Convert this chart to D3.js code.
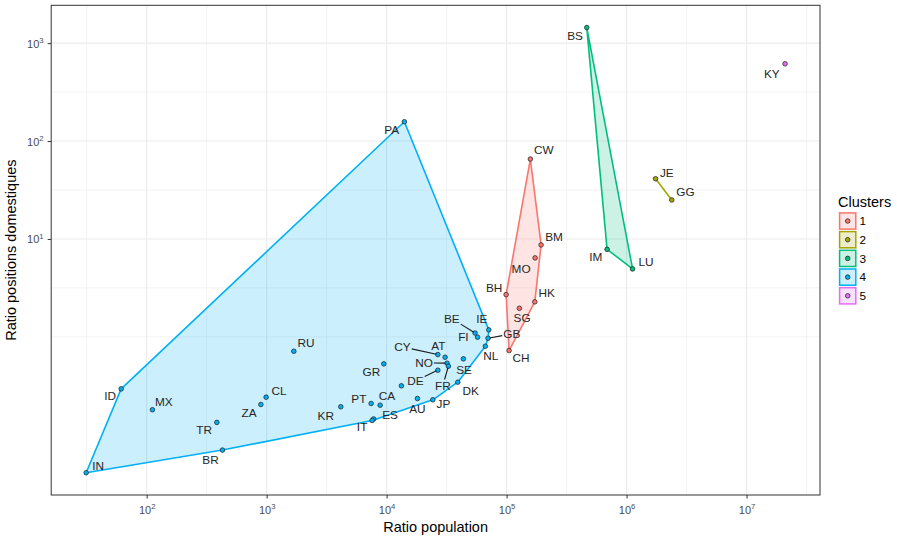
<!DOCTYPE html>
<html>
<head>
<meta charset="utf-8">
<script src="https://cdn.jsdelivr.net/npm/d3@7"></script>
<style>
  html, body { margin: 0; padding: 0; background: #fff; }
  svg { display: block; font-family: "Liberation Sans", Arial, Helvetica, sans-serif; }
</style>
</head>
<body>
<svg id="chart" width="897" height="540"></svg>
<script>
// ---------------- DATA ----------------
const codes = ["IN","ID","MX","TR","BR","ZA","CL","RU","KR","PT","CA","ES","IT","GR","",
  "AU","JP","DE","CY","AT","NO","FR","SE","DK","NL","GB","IE","BE","FI","PA",
  "CW","BM","MO","BH","HK","SG","CH","BS","IM","LU","JE","GG","KY"];
const ratioPopulation = [31.3, 61.3, 111.7, 384.6, 428.3, 895, 990, 1685, 4150, 7430, 8830, 7795, 7570, 9480, 13280,
  18070, 24270, 26720, 26720, 30720, 31920, 32730, 43650, 39180, 66540, 70100, 71060, 54630, 57290, 14060,
  157800, 193900, 172800, 99080, 171800, 127800, 104900, 465900, 687900, 1122000, 1745000, 2382000, 20940000];
const ratioPositions = [0.0409, 0.294, 0.180, 0.1336, 0.0697, 0.2037, 0.242, 0.713, 0.193, 0.2085, 0.2004, 0.145, 0.140, 0.530, 0.316,
  0.2345, 0.2275, 0.456, 0.659, 0.619, 0.538, 0.501, 0.596, 0.344, 0.802, 0.968, 1.178, 1.093, 0.991, 157.4,
  65.5, 8.69, 6.40, 2.70, 2.277, 1.958, 0.724, 1443, 7.83, 4.94, 41.2, 25.0, 615];
const clusterOf = [4,4,4,4,4,4,4,4,4,4,4,4,4,4,4,
  4,4,4,4,4,4,4,4,4,4,4,4,4,4,4,
  1,1,1,1,1,1,1,3,3,3,2,2,5];
const clusterNames = ["1","2","3","4","5"];
const xTickValues = [1e2, 1e3, 1e4, 1e5, 1e6, 1e7];
const yTickValues = [1e1, 1e2, 1e3];
const xTickExponents = ["2","3","4","5","6","7"];
const yTickExponents = ["1","2","3"];
const xTitle = "Ratio population";
const yTitle = "Ratio positions domestiques";
const legendTitle = "Clusters";

// ---------------- STYLE / LAYOUT ----------------
const FONT = '"Liberation Sans", Arial, Helvetica, sans-serif';
const clusterColors = ["#F8766D","#A3A500","#00BF7D","#00B0F6","#E76BF3"];
const panel = { left: 51.2, right: 820, top: 5.3, bottom: 495 };
// repelled label offsets (px, label centre relative to point)
const labelOffsets = {
  IN:[12,-6.6], ID:[-11,6.7], MX:[11.4,-7.6], TR:[-12.7,7], BR:[-12,9.3], ZA:[-11.7,8], CL:[13,-6.7],
  RU:[12.3,-8.4], KR:[-15,9], PT:[-12.3,-5], CA:[6.7,-9], ES:[16.5,-3.8], IT:[-10,6.3], GR:[-12.4,8.4],
  AU:[0,10], JP:[10.6,3.7], DE:[-22.4,10.6], CY:[-35.4,-7.7], AT:[-6.7,-11.4], NO:[-23,-0.4],
  FR:[-5.6,19.3], SE:[0.7,11], DK:[13,9], NL:[5.4,10], GB:[23.7,-4.4], IE:[-7,-11], BE:[-23.3,-14.5],
  FI:[-14.2,-0.4], PA:[-12.6,8], CW:[13.4,-9.3], BM:[13,-8], MO:[-14,10.4], BH:[-12,-7], HK:[12,-8.6],
  SG:[2.7,9.3], CH:[12,6.7], BS:[-11.7,8.3], IM:[-11.3,7.6], LU:[13.5,-7], JE:[11.2,-6.3], GG:[13.6,-8.3],
  KY:[-13.3,10]
};
const leaderCodes = ["BE","GB","CY","NO","DE","FR"];

// ---------------- BUILD ----------------
const data = codes.map((c, i) => ({ code: c, x: ratioPopulation[i], y: ratioPositions[i], cl: clusterOf[i] }));

function expandedLogDomain(vals) {
  const lv = vals.map(Math.log10);
  const mn = d3.min(lv), mx = d3.max(lv), pad = 0.05 * (mx - mn);
  return [Math.pow(10, mn - pad), Math.pow(10, mx + pad)];
}
const x = d3.scaleLog().domain(expandedLogDomain(ratioPopulation)).range([panel.left, panel.right]);
const y = d3.scaleLog().domain(expandedLogDomain(ratioPositions)).range([panel.bottom, panel.top]);
const color = d3.scaleOrdinal().domain([1,2,3,4,5]).range(clusterColors);

const svg = d3.select("#chart");

// grid
const grid = svg.append("g");
const xMinor = d3.range(1.5, 8, 1).map(e => Math.pow(10, e));
const yMinor = [0, 0.5, 1.5, 2.5, 3.5].map(e => Math.pow(10, e));
const inX = v => x(v) >= panel.left && x(v) <= panel.right;
const inY = v => y(v) >= panel.top && y(v) <= panel.bottom;
grid.selectAll(".xmin").data(xMinor.filter(inX)).join("line")
  .attr("x1", d => x(d)).attr("x2", d => x(d)).attr("y1", panel.top).attr("y2", panel.bottom)
  .attr("stroke", "#EBEBEB").attr("stroke-width", 0.6);
grid.selectAll(".ymin").data(yMinor.filter(inY)).join("line")
  .attr("y1", d => y(d)).attr("y2", d => y(d)).attr("x1", panel.left).attr("x2", panel.right)
  .attr("stroke", "#EBEBEB").attr("stroke-width", 0.6);
grid.selectAll(".xmaj").data(xTickValues).join("line")
  .attr("x1", d => x(d)).attr("x2", d => x(d)).attr("y1", panel.top).attr("y2", panel.bottom)
  .attr("stroke", "#EBEBEB").attr("stroke-width", 1.1);
grid.selectAll(".ymaj").data(yTickValues).join("line")
  .attr("y1", d => y(d)).attr("y2", d => y(d)).attr("x1", panel.left).attr("x2", panel.right)
  .attr("stroke", "#EBEBEB").attr("stroke-width", 1.1);

// hulls
const hullG = svg.append("g");
[1,2,3,4,5].forEach(c => {
  const pts = data.filter(d => d.cl === c).map(d => [x(d.x), y(d.y)]);
  let poly = null;
  if (pts.length >= 3) poly = d3.polygonHull(pts);
  else if (pts.length === 2) poly = pts;
  if (!poly) return;
  hullG.append("path")
    .attr("d", "M" + poly.map(p => p.join(",")).join("L") + "Z")
    .attr("fill", color(c)).attr("fill-opacity", 0.2)
    .attr("stroke", color(c)).attr("stroke-width", 1.6).attr("stroke-linejoin", "round");
});

// points
svg.append("g").selectAll("circle").data(data).join("circle")
  .attr("cx", d => x(d.x)).attr("cy", d => y(d.y)).attr("r", 2.3)
  .attr("fill", d => color(d.cl)).attr("stroke", "#1a1a1a").attr("stroke-width", 0.7);

// labels
const labG = svg.append("g");
const segG = svg.append("g");
data.filter(d => d.code && labelOffsets[d.code]).forEach(d => {
  const px = x(d.x), py = y(d.y);
  const [dx, dy] = labelOffsets[d.code];
  const cx = px + dx, cy = py + dy;
  const t = labG.append("text")
    .attr("x", cx).attr("y", cy).attr("dy", "0.36em")
    .attr("text-anchor", "middle").attr("font-size", 11.8).attr("fill", "#262626")
    .text(d.code);
  if (leaderCodes.includes(d.code)) {
    const bb = t.node().getBBox();
    const hw = bb.width / 2 + 1, hh = bb.height / 2 - 1;
    const vx = px - cx, vy = py - cy;
    const tt = Math.min(Math.abs(vx) > 0 ? hw / Math.abs(vx) : Infinity, Math.abs(vy) > 0 ? hh / Math.abs(vy) : Infinity);
    const len = Math.hypot(vx, vy);
    const sx = cx + vx * tt, sy = cy + vy * tt;
    const ex = px - vx / len * 1.5, ey = py - vy / len * 1.5;
    segG.append("line").attr("x1", sx).attr("y1", sy).attr("x2", ex).attr("y2", ey)
      .attr("stroke", "#1a1a1a").attr("stroke-width", 1.1);
  }
});

// panel border
svg.append("rect")
  .attr("x", panel.left).attr("y", panel.top)
  .attr("width", panel.right - panel.left).attr("height", panel.bottom - panel.top)
  .attr("fill", "none").attr("stroke", "#333333").attr("stroke-width", 1);

// axes
const xAxis = svg.append("g").attr("transform", `translate(0,${panel.bottom})`)
  .call(d3.axisBottom(x).tickValues(xTickValues).tickSize(3.5).tickFormat(() => ""))
  .attr("font-family", FONT).attr("font-size", 11);
xAxis.select(".domain").remove();
xAxis.selectAll(".tick line").attr("stroke", "#333333");
xAxis.selectAll(".tick text").each(function(d, i) {
  const t = d3.select(this);
  t.attr("y", 18.7).attr("dy", null).attr("fill", "#4D4D4D").attr("font-size", 11).attr("text-anchor", "middle");
  t.append("tspan").text("10");
  t.append("tspan").attr("dy", -4.8).attr("font-size", 7.7).text(xTickExponents[i]);
});

const yAxis = svg.append("g").attr("transform", `translate(${panel.left},0)`)
  .call(d3.axisLeft(y).tickValues(yTickValues).tickSize(3.5).tickFormat(() => ""))
  .attr("font-family", FONT).attr("font-size", 11);
yAxis.select(".domain").remove();
yAxis.selectAll(".tick line").attr("stroke", "#333333");
yAxis.selectAll(".tick text").each(function(d, i) {
  const t = d3.select(this);
  t.attr("x", -7.6).attr("y", 4).attr("dy", null).attr("fill", "#4D4D4D").attr("font-size", 11).attr("text-anchor", "end");
  t.append("tspan").text("10");
  t.append("tspan").attr("dy", -4.8).attr("font-size", 7.7).text(yTickExponents[i]);
});

// axis titles
svg.append("text").attr("x", (panel.left + panel.right) / 2).attr("y", 532)
  .attr("text-anchor", "middle").attr("font-size", 14.5).attr("fill", "#000").text(xTitle);
svg.append("text").attr("transform", `translate(16,${(panel.top + panel.bottom) / 2}) rotate(-90)`)
  .attr("text-anchor", "middle").attr("font-size", 14.5).attr("fill", "#000").text(yTitle);

// legend
const leg = svg.append("g");
leg.append("text").attr("x", 838).attr("y", 207.3).attr("font-size", 14.5).attr("fill", "#000").text(legendTitle);
const keyY0 = 221, keyStep = 18.7, keySize = 16.2, keyX = 847.7;
clusterNames.forEach((name, i) => {
  const cy = keyY0 + i * keyStep;
  const c = i + 1;
  leg.append("rect").attr("x", keyX - keySize / 2).attr("y", cy - keySize / 2)
    .attr("width", keySize).attr("height", keySize)
    .attr("fill", color(c)).attr("fill-opacity", 0.2)
    .attr("stroke", color(c)).attr("stroke-width", 1.5);
  leg.append("circle").attr("cx", keyX).attr("cy", cy).attr("r", 2.3)
    .attr("fill", color(c)).attr("stroke", "#1a1a1a").attr("stroke-width", 0.7);
  leg.append("text").attr("x", 859.5).attr("y", cy).attr("dy", "0.36em")
    .attr("font-size", 11.7).attr("fill", "#000").text(name);
});
</script>
</body>
</html>
